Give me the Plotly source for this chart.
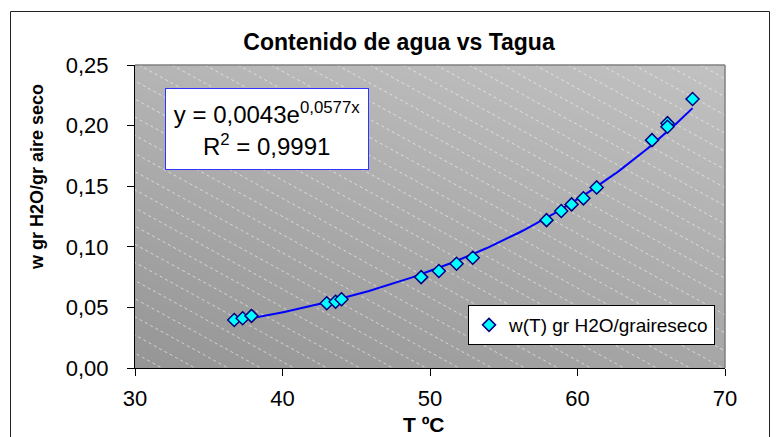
import numpy as np
import plotly.graph_objects as go

# ---- data ----
T_agua = [36.73, 37.3, 37.9, 43.0, 43.6, 44.0, 49.4, 50.6, 51.8, 52.9,
          57.9, 58.9, 59.6, 60.4, 61.3, 65.05, 66.1, 66.1, 67.8]
w_agua = [0.0396, 0.041, 0.043, 0.0534, 0.0547, 0.0567, 0.075, 0.080, 0.086, 0.091,
          0.122, 0.1295, 0.135, 0.140, 0.149, 0.188, 0.202, 0.199, 0.222]
series_name = "w(T) gr H2O/graireseco"
eq_text = "y = 0,0043e<sup>0,0577x</sup><br>R<sup>2</sup> = 0,9991"
x_ticks = [30, 40, 50, 60, 70]
y_ticks = [0.0, 0.05, 0.10, 0.15, 0.20, 0.25]

FONT = "Arial, Liberation Sans, sans-serif"

# plot area in pixels
W_PX, H_PX = 776, 437
L, R, TOP, BOT = 135, 725, 65, 368


def px(xp):
    return (xp - L) / (R - L)


def py(yp):
    return (BOT - yp) / (BOT - TOP)


# exponential trendline fitted to the data
b, lna = np.polyfit(np.array(T_agua), np.log(np.array(w_agua)), 1)
t_fit = np.linspace(min(T_agua), max(T_agua), 120)
w_fit = np.exp(lna) * np.exp(b * t_fit)

fig = go.Figure()

# gradient background (bilinear grey: BL, BR / TL, TR)
fig.add_trace(go.Heatmap(
    x=[30, 70], y=[0, 0.25], z=[[149, 166], [181, 193]],
    zmin=0, zmax=255, colorscale=[[0, "#000000"], [1, "#ffffff"]],
    zsmooth="best", showscale=False, hoverinfo="skip"))

# diagonal hatch lines (decorative)
hx, hy = [], []
slope = -0.55 * (0.25 / (BOT - TOP)) / (40 / (R - L))
step = 33 * 40 / (R - L)
x0 = 30 - 40
while x0 < 72:
    hx += [x0, x0 + 70, None]
    hy += [0.25, 0.25 + slope * 70, None]
    x0 += step
fig.add_trace(go.Scatter(x=hx, y=hy, mode="lines",
                         line=dict(color="rgba(255,255,255,0.55)", width=1, dash="dot"),
                         showlegend=False, hoverinfo="skip"))

# trendline
fig.add_trace(go.Scatter(x=t_fit, y=w_fit, mode="lines",
                         line=dict(color="#0000ff", width=2),
                         showlegend=False, hoverinfo="skip"))

# data
fig.add_trace(go.Scatter(x=T_agua, y=w_agua, mode="markers", name=series_name,
                         marker=dict(symbol="diamond", size=10, color="#00ffff",
                                     line=dict(color="#000080", width=1.5))))

fig.update_layout(
    width=W_PX, height=H_PX,
    margin=dict(l=L, r=W_PX - R, t=TOP, b=H_PX - BOT, pad=0),
    paper_bgcolor="white", plot_bgcolor="#aaaaaa",
    separators=",.",
    font=dict(family=FONT, size=22, color="black"),
    title=dict(text="<b>Contenido de agua vs Tagua</b>", x=px(399), xref="paper",
               xanchor="center", y=1 - 42 / H_PX, yref="container", yanchor="middle",
               font=dict(family=FONT, size=23, color="black")),
    showlegend=True,
    legend=dict(x=px(468), y=py(305), xanchor="left", yanchor="top",
                bgcolor="white", bordercolor="black", borderwidth=1,
                font=dict(family=FONT, size=19, color="black"),
                itemsizing="trace", tracegroupgap=0),
    xaxis=dict(range=[30, 70], tickvals=x_ticks, ticks="outside", ticklen=7,
               tickcolor="black", showline=True, linecolor="black", linewidth=1,
               showgrid=False, zeroline=False, ticklabelstandoff=4,
               tickfont=dict(size=22)),
    yaxis=dict(range=[0, 0.25], tickvals=y_ticks, tickformat=".2f", ticks="outside",
               ticklen=7, tickcolor="black", showline=True, linecolor="black",
               linewidth=1, showgrid=False, zeroline=False, ticklabelstandoff=14,
               tickfont=dict(size=22)),
)

# plot area top/right border (grey)
fig.add_shape(type="line", xref="paper", yref="paper", x0=0, x1=1, y0=1, y1=1,
              line=dict(color="#808080", width=1.5))
fig.add_shape(type="line", xref="paper", yref="paper", x0=1, x1=1, y0=0, y1=1,
              line=dict(color="#808080", width=1.5))
# outer chart border
fig.add_shape(type="rect", xref="paper", yref="paper",
              x0=px(10.5), x1=px(769.5), y0=py(450), y1=py(11.5),
              line=dict(color="#222222", width=1), layer="above")

# equation box
fig.add_annotation(text=eq_text, xref="paper", yref="paper", x=px(267), y=py(129),
                   xanchor="center", yanchor="middle", showarrow=False, align="center",
                   font=dict(family=FONT, size=24, color="black"),
                   bgcolor="white", bordercolor="#3333ff", borderwidth=1,
                   width=194, height=72, borderpad=4)

# axis titles
fig.add_annotation(text="<b>T ºC</b>", xref="paper", yref="paper", x=px(424), y=py(424),
                   xanchor="center", yanchor="middle", showarrow=False,
                   font=dict(family=FONT, size=21, color="black"))
fig.add_annotation(text="<b>w gr H2O/gr aire seco</b>", xref="paper", yref="paper",
                   x=px(37), y=py(177), xanchor="center", yanchor="middle",
                   textangle=-90, showarrow=False,
                   font=dict(family=FONT, size=18, color="black"))

fig.write_html("out.html", config={"displayModeBar": False},
               post_script="document.body.style.margin='0';"
                           "document.body.style.overflow='hidden';")
